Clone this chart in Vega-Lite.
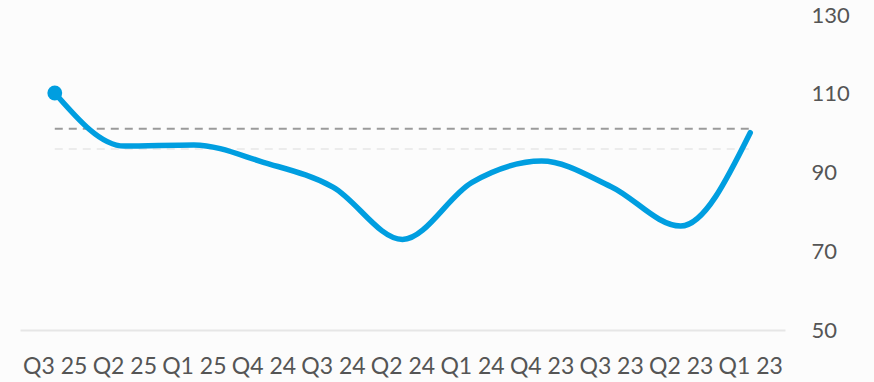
{
  "$schema": "https://vega.github.io/schema/vega-lite/v6.json",
  "autosize": "none",
  "width": 765,
  "height": 315,
  "padding": {"left": 20, "top": 15, "right": 89, "bottom": 52},
  "background": "#fcfcfc",
  "config": {"view": {"stroke": null}, "font": "Lato"},
  "datasets": {
    "series": [
      {"q": "Q3 25", "v": 110.2},
      {"q": "Q2 25", "v": 96.7},
      {"q": "Q1 25", "v": 97.0},
      {"q": "Q4 24", "v": 92.6},
      {"q": "Q3 24", "v": 86.3},
      {"q": "Q2 24", "v": 73.0},
      {"q": "Q1 24", "v": 87.5},
      {"q": "Q4 23", "v": 92.9},
      {"q": "Q3 23", "v": 86.4},
      {"q": "Q2 23", "v": 76.4},
      {"q": "Q1 23", "v": 100.1}
    ],
    "refs": [
      {"name": "faint", "v": 96.0, "from": "Q3 25", "to": "Q1 23"},
      {"name": "target", "v": 101.1, "from": "Q3 25", "to": "Q1 23"}
    ]
  },
  "encoding": {
    "y": {
      "field": "v",
      "type": "quantitative",
      "scale": {"domain": [50, 130], "nice": false, "zero": false},
      "axis": {
        "orient": "right",
        "values": [50, 70, 90, 110, 130],
        "grid": false,
        "domain": false,
        "ticks": false,
        "title": null,
        "labelPadding": 26,
        "labelAlign": "left",
        "labelFont": "Lato",
        "labelFontSize": 22,
        "labelColor": "#555555"
      }
    }
  },
  "layer": [
    {
      "data": {"name": "refs"},
      "transform": [{"filter": "datum.name === 'faint'"}],
      "mark": {"type": "rule", "color": "#ececec", "strokeWidth": 2, "strokeDash": [8, 6]},
      "encoding": {
        "x": {
          "field": "from",
          "type": "ordinal",
          "scale": {"type": "point", "padding": 0.5, "domain": ["Q3 25", "Q2 25", "Q1 25", "Q4 24", "Q3 24", "Q2 24", "Q1 24", "Q4 23", "Q3 23", "Q2 23", "Q1 23"]},
          "axis": {
            "title": null,
            "labelAngle": 0,
            "ticks": false,
            "domain": true,
            "domainColor": "#e6e6e6",
            "domainWidth": 2,
            "labelPadding": 25,
            "labelFont": "Lato",
            "labelFontSize": 23,
            "labelColor": "#555555"
          }
        },
        "x2": {"field": "to"}
      }
    },
    {
      "data": {"name": "refs"},
      "transform": [{"filter": "datum.name === 'target'"}],
      "mark": {"type": "rule", "color": "#9a9a9a", "strokeWidth": 2, "strokeDash": [8, 6]},
      "encoding": {
        "x": {"field": "from", "type": "ordinal", "scale": {"type": "point"}},
        "x2": {"field": "to"}
      }
    },
    {
      "data": {"name": "series"},
      "mark": {"type": "line", "color": "#009ee0", "strokeWidth": 5.5, "interpolate": "monotone", "strokeCap": "round"},
      "encoding": {
        "x": {"field": "q", "type": "ordinal", "scale": {"type": "point"}}
      }
    },
    {
      "data": {"name": "series"},
      "transform": [{"filter": "datum.q === 'Q3 25'"}],
      "mark": {"type": "point", "filled": true, "opacity": 1, "color": "#009ee0", "size": 220},
      "encoding": {
        "x": {"field": "q", "type": "ordinal", "scale": {"type": "point"}}
      }
    }
  ]
}
